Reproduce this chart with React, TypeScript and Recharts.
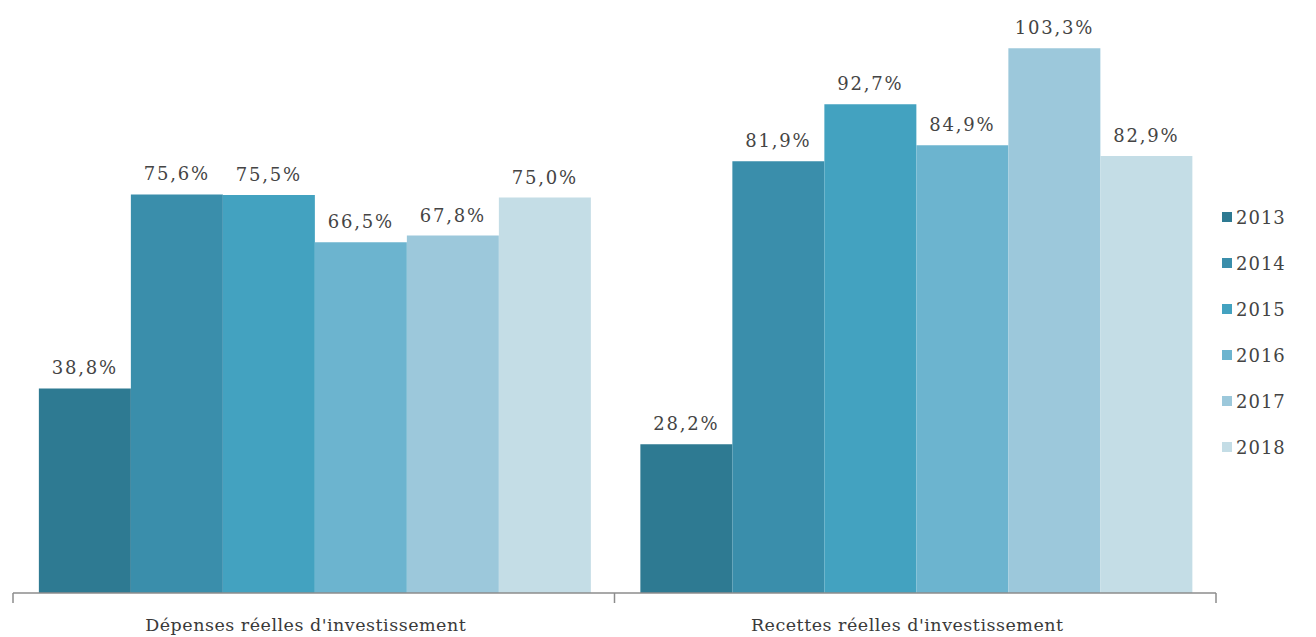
import { BarChart, Bar, XAxis, YAxis, LabelList } from "recharts";

const categories = ["Dépenses réelles d'investissement", "Recettes réelles d'investissement"];
const years = ["2013", "2014", "2015", "2016", "2017", "2018"];
const v2013 = [38.8, 28.2];
const v2014 = [75.6, 81.9];
const v2015 = [75.5, 92.7];
const v2016 = [66.5, 84.9];
const v2017 = [67.8, 103.3];
const v2018 = [75.0, 82.9];
const COLORS = ["#2e7a92", "#3a8eab", "#43a2c0", "#6cb4cf", "#9cc8db", "#c4dde6"];

const series = [v2013, v2014, v2015, v2016, v2017, v2018];
const data = categories.map((name, i) => {
  const row: Record<string, string | number> = { name };
  years.forEach((y, j) => {
    row[y] = series[j][i];
  });
  return row;
});

const FONT = "DejaVu Serif, serif";
const fmt = (v: number) => `${v.toFixed(1).replace(".", ",")}%`;

function CategoryTick(props: any) {
  const { x, y, payload, index, visibleTicksCount } = props;
  const half = payload.offset ?? 301;
  const last = index === visibleTicksCount - 1;
  return (
    <g>
      <line x1={x - half} y1={y} x2={x - half} y2={y + 10} stroke="#8c8c8c" strokeWidth={1.5} />
      {last && <line x1={x + half} y1={y} x2={x + half} y2={y + 10} stroke="#8c8c8c" strokeWidth={1.5} />}
      <text
        x={x - 8}
        y={y + 38}
        textAnchor="middle"
        fill="#3a3a3a"
        fontSize={17.5}
        fontFamily={FONT}
        letterSpacing={0.5}
      >
        {payload.value}
      </text>
    </g>
  );
}

export default function App() {
  return (
    <div style={{ position: "absolute", left: 0, top: 0, width: 1316, height: 637, background: "#fff" }}>
      <BarChart
        width={1316}
        height={637}
        data={data}
        margin={{ top: 13, right: 100, left: 13, bottom: 0 }}
        barGap={0}
        barCategoryGap="4.3%"
      >
        <XAxis
          dataKey="name"
          height={44}
          tickLine={false}
          tickSize={0}
          tickMargin={0}
          axisLine={{ stroke: "#8c8c8c", strokeWidth: 1.5 }}
          tick={<CategoryTick />}
          interval={0}
        />
        <YAxis hide domain={[0, 110]} width={0} />
        {years.map((y, i) => (
          <Bar key={y} dataKey={y} fill={COLORS[i]} isAnimationActive={false}>
            <LabelList
              dataKey={y}
              position="top"
              offset={14}
              formatter={(v: any) => fmt(Number(v))}
              fill="#444"
              fontSize={18}
              fontFamily={FONT}
              letterSpacing={1.8}
            />
          </Bar>
        ))}
      </BarChart>
      <div style={{ position: "absolute", left: 1222, top: 194, fontFamily: FONT }}>
        {years.map((y, i) => (
          <div key={y} style={{ display: "flex", alignItems: "center", height: 46 }}>
            <span style={{ width: 10, height: 10, background: COLORS[i], marginRight: 4 }} />
            <span style={{ fontSize: 18, color: "#444", letterSpacing: 1 }}>{y}</span>
          </div>
        ))}
      </div>
    </div>
  );
}
